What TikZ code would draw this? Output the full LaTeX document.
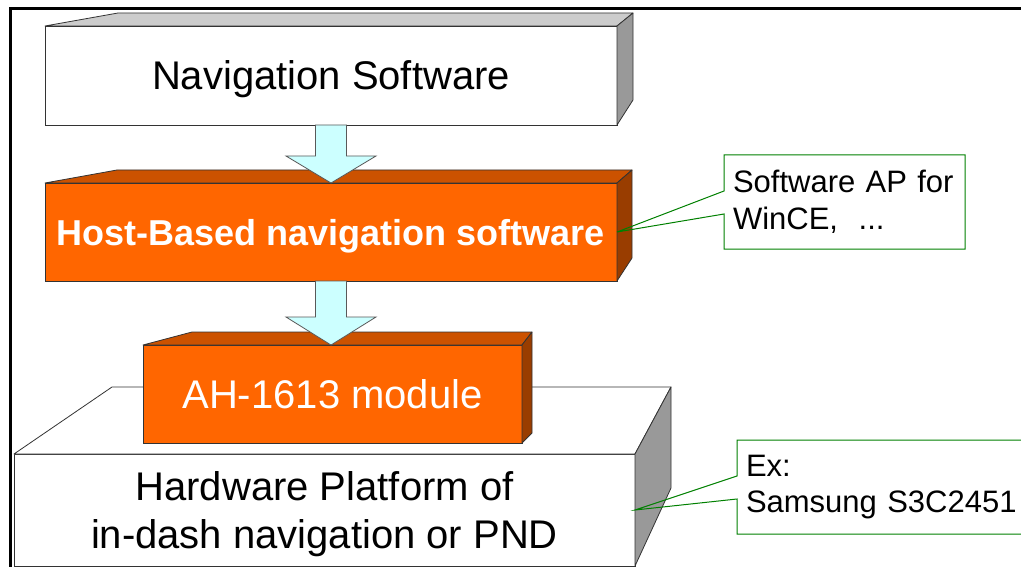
\documentclass[tikz,border=0pt]{standalone}
\usepackage{fontspec}
\setmainfont{Liberation Sans}
\usetikzlibrary{calc}
\definecolor{FrontOrange}{HTML}{FF6600}
\definecolor{TopOrange}  {HTML}{CC5200}
\definecolor{SideOrange} {HTML}{993D00}
\definecolor{TopGray}    {HTML}{CCCCCC}
\definecolor{SideGray}   {HTML}{999999}
\definecolor{ArrowCyan}  {HTML}{CCFFFF}
\definecolor{CallGreen}  {HTML}{008000}
\tikzset{
  face/.style={rectangle,draw=black!80,line width=0.8pt,inner sep=0pt,
               outer sep=0pt,anchor=north west,align=center,text depth=0pt},
  wface/.style={face,fill=white,font=\fontsize{40}{48}\selectfont},
  oface/.style={face,fill=FrontOrange,text=white},
  edge3d/.style={draw=black!80,line width=0.8pt,line join=round},
  callbox/.style={rectangle,fill=white,inner sep=0pt,inner xsep=9pt,
                  outer sep=0pt,anchor=north west,align=left,
                  minimum height=94pt,
                  font=\fontsize{31}{36.5}\selectfont},
  callline/.style={draw=CallGreen,line width=1pt},
  barr/.style={fill=ArrowCyan,draw=black!65,line width=0.8pt},
}

\begin{document}
\begin{tikzpicture}[x=1pt,y=-1pt]

  \useasboundingbox (0,0) rectangle (1021,567);

  \draw[line width=3pt] (1040,9) -- (10,9) -- (10,580);

  % navigation software
  \node[wface,minimum width=572pt,minimum height=99pt]
    (NAV) at (45,26) {Navigation Software};
  \filldraw[edge3d,fill=TopGray] (NAV.north west) -- ++(73,-13)
    -- ($(NAV.north east)+(16,-13)$) -- (NAV.north east) -- cycle;
  \filldraw[edge3d,fill=SideGray] (NAV.north east) -- ++(16,-13)
    -- ($(NAV.south east)+(16,-25)$) -- (NAV.south east) -- cycle;

  % host-based software
  \node[oface,minimum width=572pt,minimum height=98pt,
        font=\fontsize{36}{42}\selectfont\bfseries]
    (HOST) at (45,183) {Host-Based navigation software};
  \filldraw[edge3d,fill=TopOrange] (HOST.north west) -- ++(72,-13)
    -- ($(HOST.north east)+(15,-13)$) -- (HOST.north east) -- cycle;
  \filldraw[edge3d,fill=SideOrange] (HOST.north east) -- ++(15,-13)
    -- ($(HOST.south east)+(15,-23)$) -- (HOST.south east) -- cycle;

  \draw[barr] let \p1=(NAV.south), \p2=(HOST.north) in
    (\x1-15.5pt,\y1) -- (\x1-15.5pt,\y2+27pt) -- (\x1-45pt,\y2+27pt)
    -- (\x1,\y2) -- (\x1+45pt,\y2+27pt) -- (\x1+15.5pt,\y2+27pt)
    -- (\x1+15.5pt,\y1) -- cycle;

  % hardware platform
  \node[wface,minimum width=621pt,minimum height=112pt]
    (HW) at (14,454) {Hardware Platform of\\in-dash navigation or PND};
  \filldraw[edge3d,fill=white] (HW.north west) -- ++(98,-67)
    -- ($(HW.north east)+(36,-67)$) -- (HW.north east) -- cycle;
  \filldraw[edge3d,fill=SideGray] (HW.north east) -- ++(36,-67)
    -- ($(HW.south east)+(36,-78)$) -- (HW.south east) -- cycle;

  % module
  \node[oface,minimum width=379pt,minimum height=98pt,
        font=\fontsize{40}{48}\selectfont]
    (MOD) at (143,345) {AH-1613 module};
  \filldraw[edge3d,fill=TopOrange] (MOD.north west) -- ++(49,-13)
    -- ($(MOD.north east)+(10,-13)$) -- (MOD.north east) -- cycle;
  \filldraw[edge3d,fill=SideOrange] (MOD.north east) -- ++(10,-13)
    -- ($(MOD.south east)+(10,-10)$) -- (MOD.south east) -- cycle;

  \draw[barr] let \p1=(HOST.south), \p2=(MOD.north) in
    (\x1-15.5pt,\y1) -- (\x1-15.5pt,\y2+28pt) -- (\x1-45pt,\y2+28pt)
    -- (\x1,\y2) -- (\x1+45pt,\y2+28pt) -- (\x1+15.5pt,\y2+28pt)
    -- (\x1+15.5pt,\y1) -- cycle;

  % callouts
  \node[callbox,minimum width=241pt,text width=223pt]
    (AP) at (724,155) {Software AP for\\WinCE,~~...};
  \draw[callline] (AP.north west) -- ([yshift=11pt]AP.west) -- (HOST.east)
    -- ([yshift=-12pt]AP.west) -- (AP.south west) -- (AP.south east)
    -- (AP.north east) -- cycle;

  \node[callbox,minimum width=303pt,text width=285pt]
    (EX) at (737,440) {Ex:\\Samsung S3C2451};
  \draw[callline] (EX.north west) -- ([yshift=11pt]EX.west) -- (HW.east)
    -- ([yshift=-12pt]EX.west) -- (EX.south west) -- (EX.south east)
    -- (EX.north east) -- cycle;

\end{tikzpicture}
\end{document}
